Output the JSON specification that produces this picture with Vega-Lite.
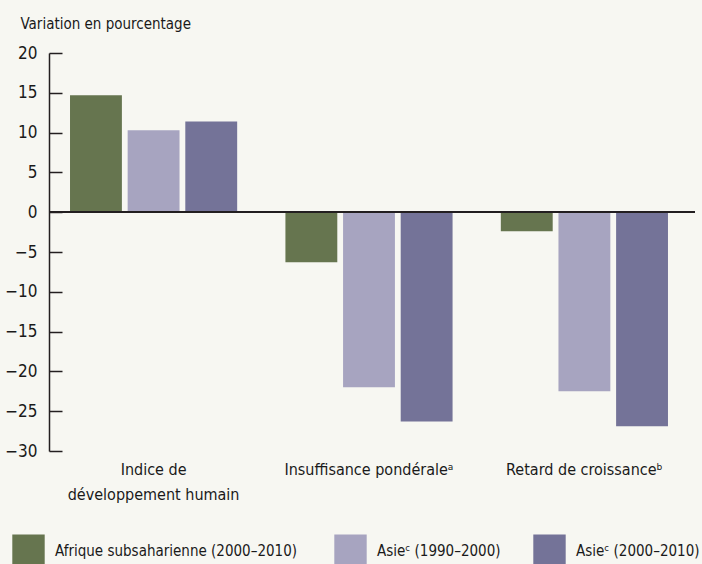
{
  "$schema": "https://vega.github.io/schema/vega-lite/v6.json",
  "width": 646,
  "height": 398,
  "autosize": "none",
  "padding": {"left": 49, "top": 53, "right": 7, "bottom": 113},
  "background": "#f7f7f2",
  "config": {
    "view": {"stroke": null},
    "font": "Liberation Sans Narrow, DejaVu Sans Condensed, sans-serif",
    "axisY": {
      "values": [-30, -25, -20, -15, -10, -5, 0, 5, 10, 15, 20],
      "labelOverlap": false,
      "grid": false, "domainColor": "#231f20", "domainWidth": 1.5,
      "tickColor": "#231f20", "tickSize": -13, "tickWidth": 1.5,
      "labelPadding": 25, "labelFontSize": 17, "labelColor": "#1a1a1a",
      "titleAngle": 0,
      "titleAlign": "left", "titleBaseline": "alphabetic",
      "titleX": -29, "titleY": -25, "titleFontSize": 15,
      "titleFontWeight": "normal", "titleColor": "#1a1a1a"
    }
  },
  "data": {
    "values": [
      {"cat": "Indice de développement humain", "serie": "Afrique subsaharienne  (2000–2010)", "val": 14.7},
      {"cat": "Indice de développement humain", "serie": "Asieᶜ (1990–2000)", "val": 10.3},
      {"cat": "Indice de développement humain", "serie": "Asieᶜ (2000–2010)", "val": 11.4},
      {"cat": "Insuffisance pondéraleᵃ", "serie": "Afrique subsaharienne  (2000–2010)", "val": -6.3},
      {"cat": "Insuffisance pondéraleᵃ", "serie": "Asieᶜ (1990–2000)", "val": -22.0},
      {"cat": "Insuffisance pondéraleᵃ", "serie": "Asieᶜ (2000–2010)", "val": -26.3},
      {"cat": "Retard de croissanceᵇ", "serie": "Afrique subsaharienne  (2000–2010)", "val": -2.4},
      {"cat": "Retard de croissanceᵇ", "serie": "Asieᶜ (1990–2000)", "val": -22.5},
      {"cat": "Retard de croissanceᵇ", "serie": "Asieᶜ (2000–2010)", "val": -26.9}
    ]
  },
  "layer": [
    {
      "mark": {"type": "bar"},
      "encoding": {
        "y": {
          "field": "val", "type": "quantitative",
          "scale": {"domain": [-30, 20], "nice": false},
          "axis": {
            "title": "Variation en pourcentage",
            "values": [-30, -25, -20, -15, -10, -5, 0, 5, 10, 15, 20]
          }
        },
        "x": {
          "field": "cat", "type": "nominal", "sort": null,
          "scale": {"paddingInner": 0.224, "paddingOuter": 0.1115, "align": 0.4375},
          "axis": {
            "title": null, "domain": false, "ticks": false, "labelAngle": 0,
            "labelPadding": 10, "labelFontSize": 16, "labelColor": "#1a1a1a",
            "labelLineHeight": 25, "labelBaseline": "top",
            "labelExpr": "datum.value == 'Indice de développement humain' ? ['Indice de', 'développement humain'] : datum.value"
          }
        },
        "xOffset": {
          "field": "serie", "type": "nominal", "sort": null,
          "scale": {"paddingInner": 0.1}
        },
        "color": {
          "field": "serie", "type": "nominal", "sort": null,
          "scale": {
            "domain": ["Afrique subsaharienne  (2000–2010)", "Asieᶜ (1990–2000)", "Asieᶜ (2000–2010)"],
            "range": ["#66754f", "#a7a4c0", "#747398"]
          },
          "legend": {
            "title": null, "orient": "none", "direction": "horizontal",
            "legendX": -37, "legendY": 481,
            "symbolType": "square", "symbolSize": 1050, "symbolStrokeWidth": 0,
            "symbolOpacity": 1,
            "labelFontSize": 15, "labelColor": "#1a1a1a", "labelOffset": 10,
            "columnPadding": 32, "labelLimit": 300
          }
        }
      }
    },
    {
      "mark": {"type": "rule", "color": "#231f20", "strokeWidth": 1.5},
      "encoding": {
        "y": {
          "datum": 0, "type": "quantitative",
          "axis": {
            "title": "Variation en pourcentage",
            "values": [-30, -25, -20, -15, -10, -5, 0, 5, 10, 15, 20]
          }
        }
      }
    }
  ]
}
